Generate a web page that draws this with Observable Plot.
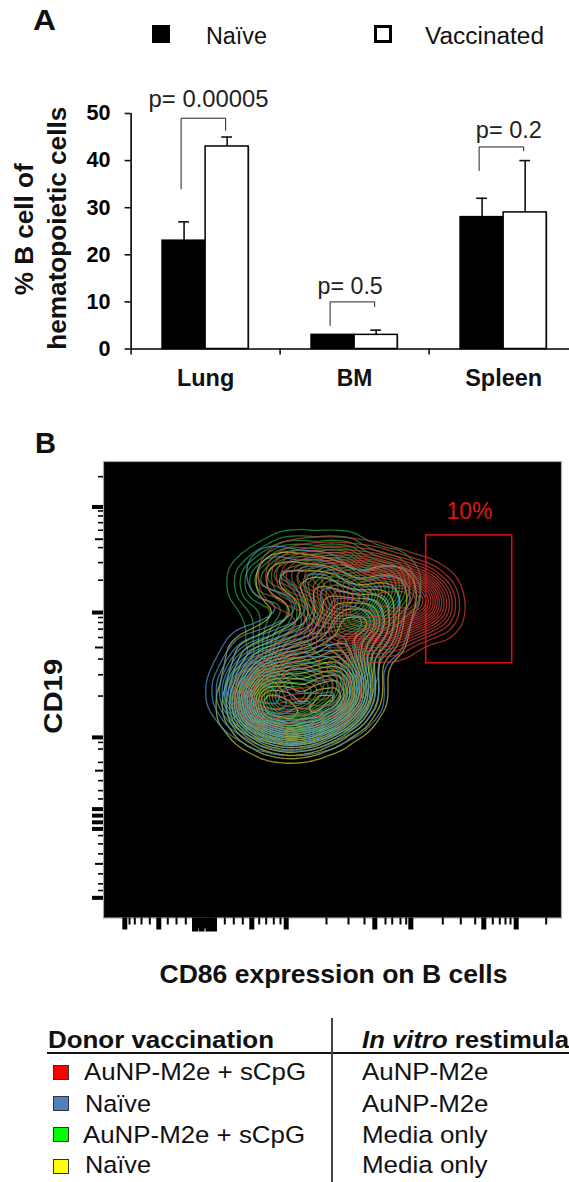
<!DOCTYPE html>
<html><head><meta charset="utf-8">
<script src="https://cdn.jsdelivr.net/npm/d3@7"></script>
<script src="https://cdn.jsdelivr.net/npm/@observablehq/plot@0.6"></script>
<style>
html,body{margin:0;padding:0;background:#fff}
#root{position:relative;width:569px;height:1182px;overflow:hidden;font-family:"Liberation Sans",Arial,sans-serif;color:#111}
#root>div{position:absolute}
#root svg{display:block;overflow:visible;font-family:"Liberation Sans",Arial,sans-serif;background:transparent;max-width:none}
.t{white-space:nowrap;line-height:1;position:absolute;transform-origin:0 50%}
.sw{position:absolute;box-sizing:border-box;border:1px solid #333}
</style></head><body><div id="root"></div>
<script>
// ---- Panel A data
const organs = ["Lung","BM","Spleen"];
const naiveMean = [23,3,28];
const naiveTop = [27,3,32];
const vaccMean = [43,3,29];
const vaccTop = [45,4,40];
const bracketLeft = [34,5,37.9];
const bracketPeak = [49,10,42.9];
const bracketRight = [46.4,9,42.1];
const pLabels = ["p= 0.00005","p= 0.5","p= 0.2"];
const pHeights = [51.5,11.8,45.1];
const pShift = [0.02,-0.03,0.035];
const yTicks = [0,10,20,30,40,50];
const axisTicks = [0,1,2];
const barSide = 0.289;
const domainEnd = 2.942;

// ---- Panel B data: axis channels (0-458, 0-457)
const xMajor = [21.3,55.3,148.3,182.7,271.3,307.3,380.3,412.7];
const xBlockLong = [91.5,98,105,110.5];
const xBlockShort = [94.5,102,108];
const xMinor = [26,31.3,38,46.3,64.3,73,82.3,121.3,130.3,139.3,155.7,162.7,170.3,177,223,245,261,282,288.7,297,302.7,339.3,357.3,371.7,389.3,396.3,402,407,442.7];
const yMajor = [411.5,305.8,180.8,109,102.5,95.8,89.2,20.2];
const yMid = [379.2,270.8,147.5,54.2];
const yMinor = [441.8,407.5,402.5,395.8,388.2,370.8,355.8,338.2,300.8,295.8,289.2,280.8,259.2,243.5,222.2,175.8,169.2,155.8,137.5,127.5,119.2,82.5,74.2,64.2,44.2,34.2,27.5];
const gate = {x1:322.7,x2:408.7,y1:255,y2:383};
const gateLabel = ["10%"];

// estimated density modes of each contour population: [CD86 channel, CD19 channel, weight]
const yellowModes = [[150,212,.8],[172,197,1],[200,196,1],[226,208,1],[246,226,.9],[170,232,1],[205,238,1],[238,255,.8],[152,258,.35],[190,272,.45],[228,288,.5],[255,305,.5],[220,328,.45],[180,338,.3],[285,325,.3],[272,285,.45]];
const blueModes = [[140,226,.9],[162,208,1],[190,202,1],[218,208,1],[243,224,.9],[165,240,1],[200,245,1],[235,255,.8],[150,262,.4],[190,275,.45],[228,288,.5],[250,310,.5],[215,335,.45],[170,345,.3],[290,325,.3],[270,285,.45]];
const greenModes = [[160,220,.7],[190,215,1],[225,225,.8],[190,250,.7],[240,255,.5],[175,285,.35],[212,285,.45],[158,336,.42],[190,351,.6],[235,349,.7],[280,333,.6],[250,312,1],[215,320,.7]];
const redModes = [[165,225,.35],[195,245,.4],[225,225,.3],[225,280,.35],[190,342,.4],[225,342,.6],[260,338,.7],[290,328,.7],[315,320,.6],[250,300,.8],[285,295,.6],[328,310,.3]];

const xTitle = ["CD86 expression on B cells"];
const yTitle = ["CD19"];

// ---- Table data
const donors = ["AuNP-M2e + sCpG","Naïve","AuNP-M2e + sCpG","Naïve"];
const restim = ["AuNP-M2e","AuNP-M2e","Media only","Media only"];
const swatches = ["#ff0000","#4f81bd","#00ff00","#ffff00"];
const legendLabels = ["Naïve","Vaccinated"];

const root = document.getElementById("root");
function add(el,left,top){const d=document.createElement("div");d.style.left=left+"px";d.style.top=top+"px";d.append(el);root.append(d);return d;}
// fit each text to the length measured on the source figure
function fit(svg,lengths){
  svg.querySelectorAll("text").forEach(t=>{
    const n=lengths[t.textContent];
    if(n){t.setAttribute("textLength",n);t.setAttribute("lengthAdjust","spacingAndGlyphs");}
  });
}

// ---- Panel A
const rows = organs.flatMap((g,i)=>[
  {g:i,side:-1,v:naiveMean[i],top:naiveTop[i],fill:"#000"},
  {g:i,side:1,v:vaccMean[i],top:vaccTop[i],fill:"#fff"}
]);
const cx = d=>d.g+.5+d.side*barSide/2;
const brackets = organs.flatMap((g,i)=>[
  {g:i,x:i+.5-barSide/2-.02,y:bracketLeft[i]},
  {g:i,x:i+.5-barSide/2-.02,y:bracketPeak[i]},
  {g:i,x:i+.5+barSide/2-.01,y:bracketPeak[i]},
  {g:i,x:i+.5+barSide/2-.01,y:bracketRight[i]}
]);
const plotA = Plot.plot({
  width:569,height:400,marginLeft:130.6,marginRight:0,marginTop:113,marginBottom:51.5,
  x:{type:"linear",domain:[0,domainEnd]},
  y:{domain:[0,50]},
  marks:[
    Plot.rectY(rows.filter(d=>d.side===1),{x1:d=>d.g+.5,x2:d=>d.g+.5+barSide,y:"v",fill:"#000",dx:1.5,dy:1,fillOpacity:.25}),
    Plot.ruleX(rows.filter(d=>d.top>d.v),{x:cx,y1:"v",y2:"top",stroke:"#111",strokeWidth:1.6}),
    Plot.ruleY(rows.filter(d=>d.top>d.v),{y:"top",x1:d=>cx(d)-.036,x2:d=>cx(d)+.036,stroke:"#111",strokeWidth:1.6}),
    Plot.rectY(rows,{x1:d=>d.side<0?d.g+.5-barSide:d.g+.5,x2:d=>d.side<0?d.g+.5:d.g+.5+barSide,y:"v",fill:"fill",stroke:"#000",strokeWidth:1.5}),
    Plot.line(brackets,{x:"x",y:"y",z:"g",stroke:"#222",strokeWidth:1,curve:"linear"}),
    Plot.text(pLabels,{x:(d,i)=>i+.5+pShift[i],y:(d,i)=>pHeights[i],text:d=>d,fontSize:23,lineAnchor:"bottom",dy:1,fill:"#222"}),
    Plot.ruleY([0],{stroke:"#000",strokeWidth:1.6}),
    Plot.ruleX([0],{y1:0,y2:50,stroke:"#000",strokeWidth:1.6}),
    Plot.axisY(yTicks,{anchor:"left",tickSize:6,tickPadding:14.5,strokeWidth:1.6,fontSize:21.5,fontWeight:"bold",fill:"#000",label:null}),
    Plot.axisX(axisTicks,{anchor:"bottom",tickSize:6,strokeWidth:1.6,tickFormat:()=>"",label:null}),
    Plot.text(organs,{x:(d,i)=>i+.5,y:0,text:d=>d,dy:29,fontSize:23.5,fontWeight:"bold",fill:"#111"}),
    Plot.text(["hematopoietic cells"],{frameAnchor:"left",textAnchor:"middle",dx:-73.6,dy:-3,fontSize:26,fontWeight:"bold",rotate:-90,fill:"#111"}),
    Plot.text(["% B cell of"],{frameAnchor:"left",textAnchor:"middle",dx:-106,dy:-2,fontSize:26,fontWeight:"bold",rotate:-90,fill:"#111"})
  ]
});
fit(plotA,{"p= 0.00005":120,"p= 0.5":65.3,"p= 0.2":66,"Lung":57.3,"BM":35.6,"Spleen":77,"hematopoietic cells":243,"% B cell of":132,"50":24,"40":24,"30":24,"20":24,"10":24,"0":12});
add(plotA,0,0);

// ---- Panel letters, key and table texts
function txt(s,left,baseline,size,weight,width,html){
  const e=document.createElement("span");e.className="t";
  if(html)e.innerHTML=html;else e.textContent=s;
  e.style.fontSize=size+"px";e.style.fontWeight=weight||"normal";e.style.left=left+"px";
  e.style.top=(baseline-size*.85+1.5)+"px";
  root.append(e);
  if(width){const w=e.getBoundingClientRect().width;e.style.transform=`scaleX(${width/w})`;}
  return e;
}
function box(left,top,w,h,css){const e=document.createElement("span");e.className="sw";e.style.cssText+=`left:${left}px;top:${top}px;width:${w}px;height:${h}px;${css}`;root.append(e);}
txt("A",33,29,29,"bold",23);
txt("B",35,452,29,"bold",21);
txt(legendLabels[0],206,43,23,null,61);
txt(legendLabels[1],425,43,23,null,119);
box(152,25,18,18,"background:#000;border:1px solid #000");
box(374,25,18,18,"background:#fff;border:3px solid #000");

// ---- Panel B
const pt = d=>({x:d[0],y:d[1],w:d[2]});
const contour = (modes,stroke)=>Plot.density(modes.map(pt),{x:"x",y:"y",weight:"w",bandwidth:16,thresholds:20,stroke,strokeWidth:1.3,strokeOpacity:.72});
const tickStyle = {tickFormat:()=>"",label:null,stroke:"#000"};
const plotB = Plot.plot({
  width:569,height:560,marginLeft:103,marginRight:8,marginTop:21,marginBottom:82.5,
  x:{type:"linear",domain:[0,458]},
  y:{type:"linear",domain:[0,457]},
  marks:[
    Plot.frame({fill:"#000",stroke:"#aaa",strokeWidth:1.2}),
    contour(greenModes,"#27a83a"),
    contour(yellowModes,"#c9c93a"),
    contour(blueModes,"#4a9ad0"),
    contour(redModes,"#d0403a"),
    Plot.rect([gate],{x1:"x1",x2:"x2",y1:"y1",y2:"y2",stroke:"#d90f0f",strokeWidth:1.6,fill:"none"}),
    Plot.text(gateLabel,{x:()=>366,y:()=>407,text:d=>d,fontSize:24,fill:"#e01414"}),
    Plot.axisX(xMinor,{anchor:"bottom",tickSize:7,strokeWidth:2,...tickStyle}),
    Plot.axisX(xMajor,{anchor:"bottom",tickSize:12,strokeWidth:5,...tickStyle}),
    Plot.axisX(xBlockLong,{anchor:"bottom",tickSize:14,strokeWidth:6,...tickStyle}),
    Plot.axisX(xBlockShort,{anchor:"bottom",tickSize:11,strokeWidth:6,...tickStyle}),
    Plot.axisY(yMinor,{anchor:"left",tickSize:5,strokeWidth:1.6,...tickStyle}),
    Plot.axisY(yMid,{anchor:"left",tickSize:8,strokeWidth:2,...tickStyle}),
    Plot.axisY(yMajor,{anchor:"left",tickSize:11,strokeWidth:4,...tickStyle}),
    Plot.text(xTitle,{frameAnchor:"bottom",dx:1,dy:65,fontSize:26,fontWeight:"bold",fill:"#111"}),
    Plot.text(yTitle,{frameAnchor:"left",textAnchor:"middle",dx:-49.5,dy:6.5,fontSize:26,fontWeight:"bold",rotate:-90,fill:"#111"})
  ]
});
fit(plotB,{"CD86 expression on B cells":348,"CD19":75,"10%":46});
add(plotB,0,440);

// ---- Table
box(47,1052,522,2,"background:#111;border:0");
box(331,1018,1.5,164,"background:#444;border:0");
txt("Donor vaccination",48,1047,24.5,"bold",226);
txt("",361.7,1047,24.5,"bold",207,"<i>In vitro</i> restimula");
const bases=[1079,1111,1142,1172];
const lefts=[84,85,82.6,85];
const swTop=[1065,1096,1127,1159];
const donorWidth={"AuNP-M2e + sCpG":222,"Naïve":66};
const restimWidth={"AuNP-M2e":126.5,"Media only":125.5};
donors.forEach((d,i)=>{
  txt(d,lefts[i],bases[i],24.5,null,donorWidth[d]);
  txt(restim[i],361.7,bases[i],24.5,null,restimWidth[restim[i]]);
  box(53,swTop[i],16,15,`background:${swatches[i]}`);
});
</script></body></html>
